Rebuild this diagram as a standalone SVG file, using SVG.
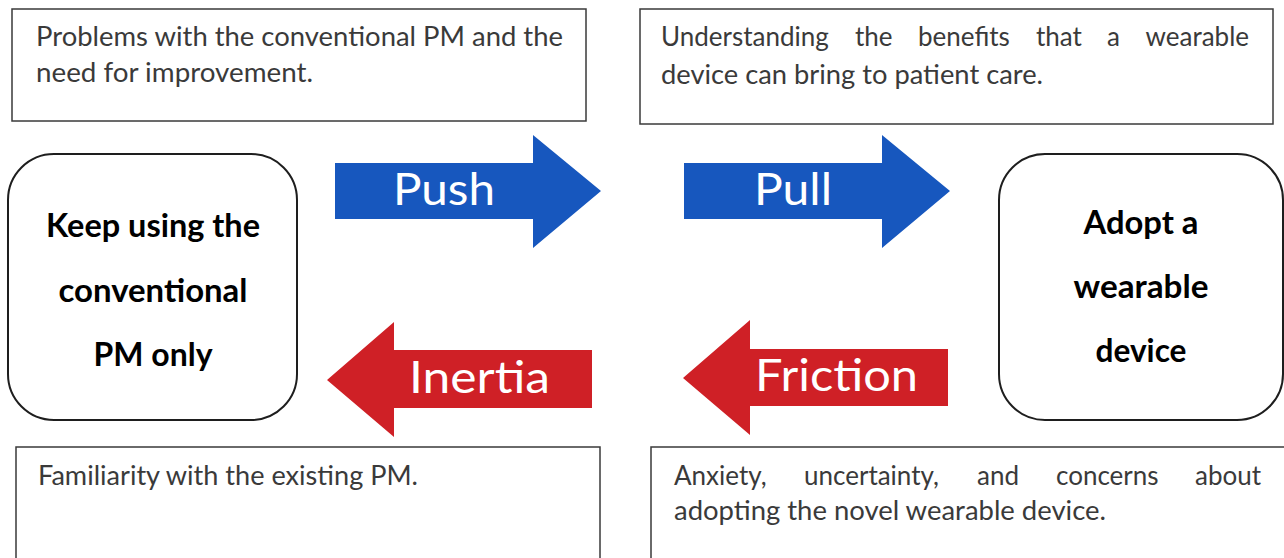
<svg xmlns="http://www.w3.org/2000/svg" width="1284" height="558" viewBox="0 0 1284 558">
<style>
.box{fill:#fff;stroke:#3a3a3a;stroke-width:1.5}
.rbox{fill:#fff;stroke:#1e1e1e;stroke-width:2}
.txt{font-family:Lato,"Open Sans","Liberation Sans",sans-serif;font-size:26px;fill:#3a3a3a}
.bold{font-family:Lato,"Open Sans","Liberation Sans",sans-serif;font-size:32px;font-weight:700;fill:#000;text-anchor:middle}
.lab{font-family:Lato,"Open Sans","Liberation Sans",sans-serif;font-size:44px;fill:#fff}
.blue{fill:#1757be}
.red{fill:#cf2026}
</style>
<rect width="1284" height="558" fill="#fff"/>
<g id="push-note">
<rect class="box" x="12" y="9" width="574" height="112"/>
<text class="txt" x="36" y="46" textLength="527" lengthAdjust="spacingAndGlyphs">Problems with the conventional PM and the</text>
<text class="txt" x="36" y="82" textLength="277" lengthAdjust="spacingAndGlyphs">need for improvement.</text>
</g>
<g id="pull-note">
<rect class="box" x="640" y="9" width="633" height="115"/>
<text class="txt" y="46"><tspan x="661">Understanding</tspan><tspan x="855">the</tspan><tspan x="918">benefits</tspan><tspan x="1036">that</tspan><tspan x="1107">a</tspan></text>
<text class="txt" x="1249" y="46" text-anchor="end">wearable</text>
<text class="txt" x="661" y="84" textLength="382" lengthAdjust="spacingAndGlyphs">device can bring to patient care.</text>
</g>
<g id="current">
<rect class="rbox" x="8" y="154" width="289" height="266" rx="46" ry="46"/>
<text class="bold" x="153" y="237" textLength="214" lengthAdjust="spacingAndGlyphs">Keep using the</text>
<text class="bold" x="153" y="302" textLength="189" lengthAdjust="spacingAndGlyphs">conventional</text>
<text class="bold" x="153" y="366" textLength="119" lengthAdjust="spacingAndGlyphs">PM only</text>
</g>
<g id="adopt">
<rect class="rbox" x="999" y="154" width="284" height="266" rx="46" ry="46"/>
<text class="bold" x="1141" y="234" textLength="115" lengthAdjust="spacingAndGlyphs">Adopt a</text>
<text class="bold" x="1141" y="298" textLength="135" lengthAdjust="spacingAndGlyphs">wearable</text>
<text class="bold" x="1141" y="362" textLength="91" lengthAdjust="spacingAndGlyphs">device</text>
</g>
<g id="inertia-note">
<rect class="box" x="16" y="447" width="584" height="120"/>
<text class="txt" x="38" y="485" textLength="380" lengthAdjust="spacingAndGlyphs">Familiarity with the existing PM.</text>
</g>
<g id="friction-note">
<rect class="box" x="651" y="447" width="640" height="120"/>
<text class="txt" y="485"><tspan x="674">Anxiety,</tspan><tspan x="804">uncertainty,</tspan><tspan x="977">and</tspan><tspan x="1056">concerns</tspan></text>
<text class="txt" x="1261" y="485" text-anchor="end">about</text>
<text class="txt" x="674" y="520" textLength="432" lengthAdjust="spacingAndGlyphs">adopting the novel wearable device.</text>
</g>
<g id="connectors">
<g id="push">
<polygon class="blue" points="335,163 533,163 533,135 601,191 533,248 533,219 335,219"/>
<text class="lab" x="393" y="205" textLength="102" lengthAdjust="spacingAndGlyphs">Push</text>
</g>
<g id="pull">
<polygon class="blue" points="684,163 882,163 882,135 950,191 882,248 882,219 684,219"/>
<text class="lab" x="754" y="205" textLength="78" lengthAdjust="spacingAndGlyphs">Pull</text>
</g>
<g id="inertia">
<polygon class="red" points="592,350 394,350 394,322 327,380 394,437 394,408 592,408"/>
<text class="lab" x="409" y="393" textLength="141" lengthAdjust="spacingAndGlyphs">Inertia</text>
</g>
<g id="friction">
<polygon class="red" points="948,349 750,349 750,320 683,378 750,435 750,406 948,406"/>
<text class="lab" x="755" y="391" textLength="163" lengthAdjust="spacingAndGlyphs">Friction</text>
</g>
</g>
</svg>
